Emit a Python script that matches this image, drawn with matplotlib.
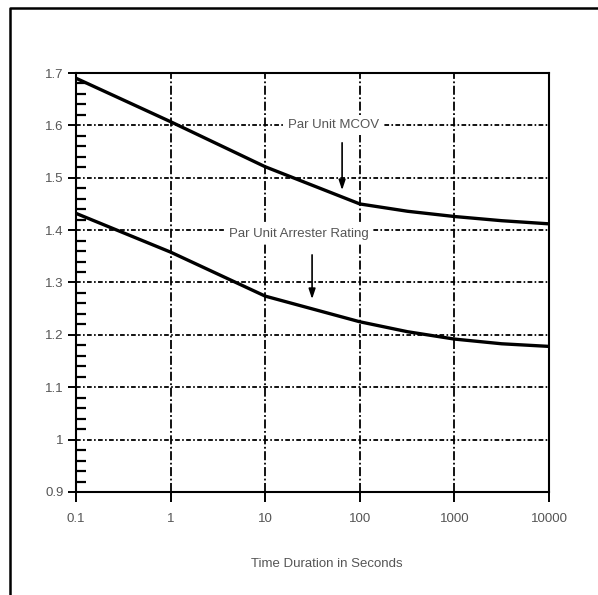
import numpy as np
import matplotlib
matplotlib.use("Agg")
import matplotlib.pyplot as plt
from matplotlib.ticker import FixedLocator, NullLocator, FixedFormatter
from matplotlib.lines import Line2D

plt.rcParams['font.family'] = ['Liberation Sans', 'DejaVu Sans']

# time duration (s) and per-unit values
t_mcov = [0.1, 1, 10, 100, 320, 1000, 3160, 10000]
pu_mcov = [1.69, 1.607, 1.521, 1.45, 1.436, 1.426, 1.418, 1.412]
t_rating = [0.1, 1, 10, 100, 320, 1000, 3160, 10000]
pu_rating = [1.432, 1.358, 1.274, 1.225, 1.206, 1.192, 1.183, 1.178]

x_ticks = [0.1, 1, 10, 100, 1000, 10000]
x_labels = ["0.1", "1", "10", "100", "1000", "10000"]
y_ticks = [0.9, 1.0, 1.1, 1.2, 1.3, 1.4, 1.5, 1.6, 1.7]
y_labels = ["0.9", "1", "1.1", "1.2", "1.3", "1.4", "1.5", "1.6", "1.7"]

fig = plt.figure(figsize=(5.98, 5.95), dpi=100)
ax = fig.add_axes([76/598, 1 - 492/595, 473/598, 419/595])

ax.plot(t_mcov, pu_mcov, color="black", lw=2.4, zorder=5)
ax.plot(t_rating, pu_rating, color="black", lw=2.4, zorder=5)

ax.set_xscale("log")
ax.set_xlim(0.1, 10000)
ax.set_ylim(0.9, 1.7)

ax.xaxis.set_major_locator(FixedLocator(x_ticks))
ax.xaxis.set_major_formatter(FixedFormatter(x_labels))
ax.xaxis.set_minor_locator(NullLocator())
ax.yaxis.set_major_locator(FixedLocator(y_ticks))
ax.yaxis.set_major_formatter(FixedFormatter(y_labels))
ax.yaxis.set_minor_locator(FixedLocator(np.arange(0.92, 1.7, 0.02)))

ax.tick_params(axis="x", which="major", direction="out", length=7, width=1.4,
               pad=8, labelsize=9.5, labelcolor="#555555")
ax.tick_params(axis="y", which="major", direction="out", length=6, width=1.4,
               pad=3, labelsize=9.5, labelcolor="#555555")
ax.tick_params(axis="y", which="minor", direction="in", length=7.5, width=1.6)

for s in ax.spines.values():
    s.set_linewidth(1.5)

ax.xaxis.grid(True, color="black", lw=1.3, linestyle=(0, (5, 1.4, 1, 1.4)))
ax.yaxis.grid(True, color="black", lw=1.3, linestyle=(0, (2.6, 1.3, 0.9, 1.3)))
ax.set_axisbelow(True)

box = dict(facecolor="white", edgecolor="none", pad=3)
ax.text(52.7, 1.601, "Par Unit MCOV", ha="center", va="center", fontsize=9.5,
        color="#555555", bbox=box, zorder=4)
ax.text(22.5, 1.393, "Par Unit Arrester Rating", ha="center", va="center",
        fontsize=9.5, color="#555555", bbox=box, zorder=4)

arrow = dict(arrowstyle="-|>,head_length=0.6,head_width=0.2", color="black", lw=1.2)
ax.annotate("", xy=(65, 1.471), xytext=(65, 1.572), arrowprops=arrow, zorder=6)
ax.annotate("", xy=(31.3, 1.263), xytext=(31.3, 1.358), arrowprops=arrow, zorder=6)

ax.text(0.53, -0.172, "Time Duration in Seconds", transform=ax.transAxes,
        ha="center", va="center", fontsize=9.5, color="#555555")

# outer frame (left and top edges only visible)
fx = 10/598
fy = 1 - 8/595
fig.add_artist(Line2D([fx, fx, 1.0], [0.0, fy, fy], transform=fig.transFigure,
                      color="black", lw=1.8))

fig.savefig("out.png", dpi=100)
